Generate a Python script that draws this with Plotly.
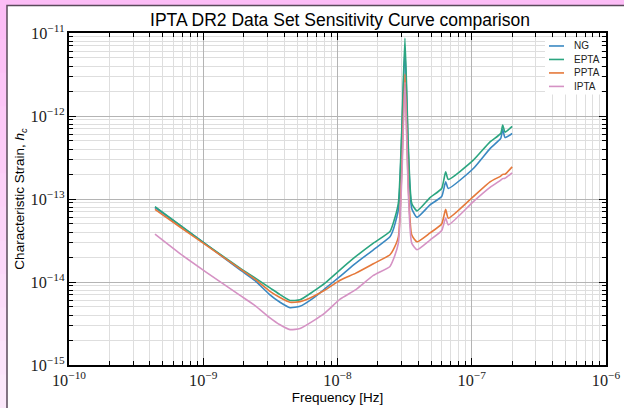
import plotly.graph_objects as go

# Frequencies [Hz]
freq = [4.37e-10, 6.71e-10, 1.062e-9, 1.88e-9, 2.43e-9, 3.14e-9, 3.73e-9, 4.43e-9,
        5.26e-9, 6.6e-9, 8.07e-9, 1.045e-8, 1.37e-8, 1.85e-8, 2.46e-8, 2.60e-8,
        2.84e-8, 3.01e-8, 3.18e-8, 3.37e-8, 3.57e-8, 3.91e-8, 4.89e-8, 5.97e-8,
        6.39e-8, 6.69e-8, 1.028e-7, 1.368e-7, 1.644e-7, 1.70e-7, 1.77e-7, 2.00e-7]

ng = [7.9e-14, 4.8e-14, 2.8e-14, 1.4e-14, 1.04e-14, 7.0e-15, 5.7e-15, 4.9e-15,
      5.1e-15, 6.4e-15, 8.3e-15, 1.17e-14, 1.69e-14, 2.44e-14, 3.5e-14, 4.25e-14,
      7.4e-14, 5.6e-13, 6.5e-12, 3.5e-13, 7.7e-14, 6.0e-14, 8.5e-14, 1.07e-13,
      1.61e-13, 1.34e-13, 2.33e-13, 4.05e-13, 5.36e-13, 6.9e-13, 5.5e-13, 6.15e-13]

epta = [8.1e-14, 4.84e-14, 2.8e-14, 1.47e-14, 1.12e-14, 8.5e-15, 7.05e-15, 6.0e-15,
        6.1e-15, 7.7e-15, 9.7e-15, 1.4e-14, 2.03e-14, 2.94e-14, 4.06e-14, 5.1e-14,
        8.9e-14, 6.7e-13, 8.7e-12, 4.3e-13, 8.9e-14, 7.2e-14, 1.04e-13, 1.34e-13,
        2.13e-13, 1.72e-13, 2.94e-13, 4.88e-13, 6.15e-13, 7.8e-13, 6.4e-13, 7.5e-13]

ppta = [7.5e-14, 4.6e-14, 2.74e-14, 1.44e-14, 1.08e-14, 7.7e-15, 6.5e-15, 5.7e-15,
        5.8e-15, 6.7e-15, 8.0e-15, 1.05e-14, 1.28e-14, 1.66e-14, 2.13e-14, 2.44e-14,
        3.5e-14, 2.2e-13, 3.2e-12, 1.4e-13, 3.7e-14, 3.05e-14, 3.9e-14, 5.0e-14,
        7.5e-14, 5.86e-14, 1.07e-13, 1.61e-13, 1.89e-13, 1.98e-13, 1.99e-13, 2.44e-13]

ipta = [3.77e-14, 2.2e-14, 1.3e-14, 6.9e-15, 5.2e-15, 3.7e-15, 3.05e-15, 2.67e-15,
        2.75e-15, 3.4e-15, 4.25e-15, 6.2e-15, 8.1e-15, 1.2e-14, 1.54e-14, 1.85e-14,
        2.94e-14, 1.7e-13, 2.56e-12, 1.17e-13, 2.94e-14, 2.45e-14, 3.2e-14, 4.17e-14,
        5.9e-14, 4.88e-14, 9.3e-14, 1.38e-13, 1.69e-13, 1.76e-13, 1.78e-13, 2.07e-13]

names = ["NG", "EPTA", "PPTA", "IPTA"]
series = [ng, epta, ppta, ipta]
colors = ["#3a88c2", "#2ba580", "#e5783a", "#d592c4"]

fig = go.Figure()
for name, vals, col in zip(names, series, colors):
    fig.add_trace(go.Scatter(x=freq, y=vals, mode="lines", name=name,
                             line=dict(color=col, width=1.6, shape="spline", smoothing=0.5)))

tickfont = dict(family="Liberation Serif", size=13, color="#222222")
common = dict(
    type="log", dtick=1, exponentformat="power", automargin=False,
    showline=True, linecolor="black", linewidth=1.5, mirror="allticks",
    ticks="inside", ticklen=7, tickwidth=1, tickcolor="black",
    showgrid=True, gridcolor="#b4b4b4", gridwidth=1, zeroline=False,
    minor=dict(ticks="inside", ticklen=4, tickwidth=0.8, tickcolor="black",
               dtick="D1", showgrid=True, gridcolor="#dedede", gridwidth=0.8),
    tickfont=tickfont,
)

fig.update_xaxes(range=[-10, -6], **common,
                 title=dict(text="Frequency [Hz]", standoff=1,
                            font=dict(family="Liberation Sans", size=13.5, color="black")))
fig.update_yaxes(range=[-15, -11], **common,
                 title=dict(text="Characteristic Strain, <i>h<sub>c</sub></i>", standoff=3,
                            font=dict(family="Liberation Sans", size=13.5, color="black")))

L, R, T, B = 69, 18, 32.5, 43
W, H = 624, 408
pw, ph = W - L - R, H - T - B

def px(x):
    return (x - L) / pw

def py(y):
    return (H - B - y) / ph

shapes = []
# left strip gradient of the page background
n = 12
top_c = (252, 189, 246)
bot_c = (251, 232, 250)
for i in range(n):
    t = i / (n - 1)
    c = tuple(int(round(top_c[k] + (bot_c[k] - top_c[k]) * t)) for k in range(3))
    shapes.append(dict(type="rect", xref="paper", yref="paper", layer="below",
                       x0=px(-2), x1=px(7), y0=py(5 + (H - 5) * (i + 1) / n + 1),
                       y1=py(5 + (H - 5) * i / n), line=dict(width=0),
                       fillcolor="rgb(%d,%d,%d)" % c))
# white figure panel
shapes.append(dict(type="rect", xref="paper", yref="paper", layer="below",
                   x0=px(7), x1=px(W + 20), y0=py(H + 20), y1=py(5),
                   fillcolor="white", line=dict(color="#5a4a5a", width=1.5)))

# legend box (drawn above the grid)
annotations = []
shapes.append(dict(type="rect", xref="paper", yref="paper", layer="above",
                   x0=px(545), x1=px(601), y0=py(94), y1=py(37),
                   fillcolor="white", line=dict(width=0)))
row_y = [45.5, 59, 72.5, 86]
for name, col, yy in zip(names, colors, row_y):
    shapes.append(dict(type="line", xref="paper", yref="paper", layer="above",
                       x0=px(549), x1=px(564), y0=py(yy), y1=py(yy),
                       line=dict(color=col, width=1.6)))
    annotations.append(dict(xref="paper", yref="paper", x=px(572), y=py(yy),
                            xanchor="left", yanchor="middle", text=name, showarrow=False,
                            font=dict(family="Liberation Sans", size=10, color="#222222")))

fig.update_layout(
    width=W, height=H,
    margin=dict(l=L, r=R, t=T, b=B, autoexpand=False),
    paper_bgcolor="#fcbdf6", plot_bgcolor="white",
    shapes=shapes, annotations=annotations,
    title=dict(text="IPTA DR2 Data Set Sensitivity Curve comparison",
               x=(340) / W, xanchor="center", y=1 - 20 / H, yanchor="middle",
               font=dict(family="Liberation Sans", size=17.5, color="black")),
    showlegend=False,
)

fig.write_html("out.html", config={"displayModeBar": False},
               post_script="document.body.style.margin='0';")
